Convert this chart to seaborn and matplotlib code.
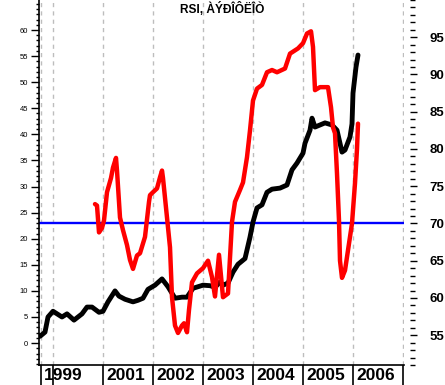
import matplotlib

matplotlib.use("Agg")
import matplotlib.pyplot as plt
import seaborn as sns
from matplotlib.ticker import FixedLocator, MultipleLocator
from matplotlib.transforms import blended_transform_factory

# price (left axis)
price_years = [
    1999.74, 1999.84, 1999.90, 2000.00, 2000.18, 2000.28, 2000.42, 2000.58,
    2000.68, 2000.78, 2000.92, 2001.00, 2001.10, 2001.24, 2001.32, 2001.44,
    2001.60, 2001.70, 2001.80, 2001.90, 2002.04, 2002.18, 2002.30, 2002.44,
    2002.58, 2002.68, 2002.80, 2003.00, 2003.14, 2003.24, 2003.34, 2003.40,
    2003.50, 2003.60, 2003.70, 2003.84, 2003.94, 2004.00, 2004.08, 2004.18,
    2004.28, 2004.38, 2004.54, 2004.68, 2004.78, 2004.88, 2005.00, 2005.04,
    2005.14, 2005.18, 2005.24, 2005.44, 2005.58, 2005.68, 2005.78, 2005.84,
    2005.94, 2005.98, 2006.00, 2006.06, 2006.10,
]
price = [
    1.3, 2.1, 5.0, 6.1, 5.0, 5.6, 4.4, 5.6,
    6.9, 6.9, 5.9, 6.1, 7.9, 10.0, 9.0, 8.4,
    7.9, 8.2, 8.6, 10.3, 11.1, 12.3, 10.8, 8.6,
    8.8, 8.8, 10.5, 11.1, 11.0, 10.7, 11.7, 11.1,
    11.5, 13.6, 15.1, 16.2, 20.3, 23.2, 25.9, 26.5,
    28.9, 29.5, 29.7, 30.3, 33.2, 34.5, 36.4, 38.3,
    40.8, 43.1, 41.4, 42.2, 41.8, 40.8, 36.6, 37.0,
    39.5, 42.0, 47.9, 52.9, 55.2,
]

# RSI (right axis)
rsi_years = [
    2000.84, 2000.88, 2000.92, 2000.98, 2001.02, 2001.08, 2001.16, 2001.20,
    2001.26, 2001.28, 2001.34, 2001.40, 2001.48, 2001.54, 2001.60, 2001.68,
    2001.74, 2001.84, 2001.92, 2001.94, 2002.00, 2002.08, 2002.14, 2002.18,
    2002.20, 2002.28, 2002.34, 2002.38, 2002.44, 2002.50, 2002.58, 2002.62,
    2002.68, 2002.72, 2002.78, 2002.88, 2003.00, 2003.10, 2003.18, 2003.24,
    2003.32, 2003.40, 2003.50, 2003.58, 2003.64, 2003.74, 2003.80, 2003.88,
    2003.94, 2004.00, 2004.08, 2004.18, 2004.28, 2004.38, 2004.48, 2004.64,
    2004.74, 2004.90, 2005.00, 2005.08, 2005.16, 2005.20, 2005.24, 2005.34,
    2005.50, 2005.56, 2005.60, 2005.64, 2005.68, 2005.72, 2005.74, 2005.78,
    2005.84, 2005.90, 2005.98, 2006.04, 2006.08, 2006.10,
]
rsi = [
    72.6, 72.4, 68.8, 69.4, 70.4, 74.2, 76.1, 77.5,
    78.8, 77.1, 70.8, 69.1, 67.1, 65.1, 63.9, 65.7,
    66.0, 68.2, 72.9, 73.8, 74.2, 74.7, 76.2, 77.1,
    76.1, 70.8, 66.8, 60.1, 56.3, 55.3, 56.3, 56.6,
    55.4, 58.4, 62.1, 63.3, 64.0, 65.0, 62.8, 60.2,
    65.8, 60.1, 60.6, 70.2, 72.9, 74.5, 75.5, 78.9,
    82.5, 86.5, 88.1, 88.6, 90.3, 90.6, 90.3, 90.8,
    92.8, 93.5, 94.2, 95.5, 95.8, 93.7, 87.9, 88.3,
    88.3, 85.6, 82.9, 82.1, 76.7, 70.4, 65.0, 62.7,
    63.7, 66.4, 70.0, 75.4, 80.0, 83.4,
]
rsi_level = 70

grid_years = [1999.76, 2000, 2001, 2002, 2003, 2004, 2005, 2006, 2007]
year_labels = ["1999", "", "2001", "2002", "2003", "2004", "2005", "2006", ""]
left_ticks = [0, 5, 10, 15, 20, 25, 30, 35, 40, 45, 50, 55, 60]
right_ticks = [55, 60, 65, 70, 75, 80, 85, 90, 95]
title = "RSI, ÀÝÐÎÔËÎÒ"

sns.set_theme(style="white")
plt.rcParams["font.family"] = ["Liberation Sans", "DejaVu Sans"]
plt.rcParams["text.color"] = "black"

fig = plt.figure(figsize=(4.45, 3.85), dpi=100)
ax = fig.add_axes([39 / 445, 20 / 385, 365 / 445, 365 / 385])
ax2 = ax.twinx()

ax.set_xlim(1999.72, 2007.02)
ax.set_ylim(-4.2, 65.75)
ax2.set_ylim(51, 100)

# 70 level, in right-axis units but drawn under both series
ax.plot([0, 1], [rsi_level, rsi_level], color="#0000ff", lw=1.7, zorder=1,
        transform=blended_transform_factory(ax.transAxes, ax2.transData))

sns.lineplot(x=price_years, y=price, ax=ax, color="black", lw=3.5, zorder=3)
sns.lineplot(x=rsi_years, y=rsi, ax=ax2, color="#ff0000", lw=3.2)
ax.set_xlabel("")
ax.set_ylabel("")
ax2.set_ylabel("")

# x axis: dashed year grid, separator ticks, bold year labels
ax.set_xticks(grid_years)
ax.grid(axis="x", color="#bdbdbd", ls=(0, (3, 3)), lw=1)
ax.tick_params(axis="x", bottom=True, length=14.4, width=1.2, direction="out",
               color="black", labelbottom=False)
ax.xaxis.get_major_ticks()[-1].tick1line.set_color("#909090")
for yr, lab in zip(grid_years, year_labels):
    if lab:
        ax.annotate(lab, xy=(yr, 0), xycoords=ax.get_xaxis_transform(),
                    xytext=(3, -3), textcoords="offset pixels", color="black",
                    ha="left", va="top", fontsize=12.5, fontweight="bold")

# left axis
ax.yaxis.set_major_locator(FixedLocator(left_ticks))
ax.yaxis.set_minor_locator(MultipleLocator(1))
ax.tick_params(axis="y", which="major", left=True, length=5.8, width=1,
               color="black", labelsize=5.5, pad=2, labelcolor="black")
ax.tick_params(axis="y", which="minor", left=True, length=2.5, width=1, color="black")

# right axis, no spine
ax2.yaxis.set_major_locator(FixedLocator(right_ticks))
ax2.yaxis.set_minor_locator(MultipleLocator(1))
ax2.spines["right"].set_position(("outward", 4))
ax2.tick_params(axis="y", which="major", right=True, length=5, width=1,
                color="black", labelsize=9.5, pad=9.4, labelcolor="black")
ax2.tick_params(axis="y", which="minor", right=True, length=3.5, width=1, color="black")
for t in ax2.get_yticklabels():
    t.set_fontweight("bold")

for name in ["top", "right"]:
    ax.spines[name].set_visible(False)
for name in ["top", "right", "left", "bottom"]:
    ax2.spines[name].set_visible(False)
ax.spines["left"].set_color("black")
ax.spines["left"].set_linewidth(1.2)
ax.spines["bottom"].set_color("black")
ax.spines["bottom"].set_linewidth(1.2)

fig.text(0.5, 1 - 9 / 385, title, ha="center", va="center", color="black",
         fontsize=8.6, fontweight="bold")

fig.savefig("out.png", dpi=100)
